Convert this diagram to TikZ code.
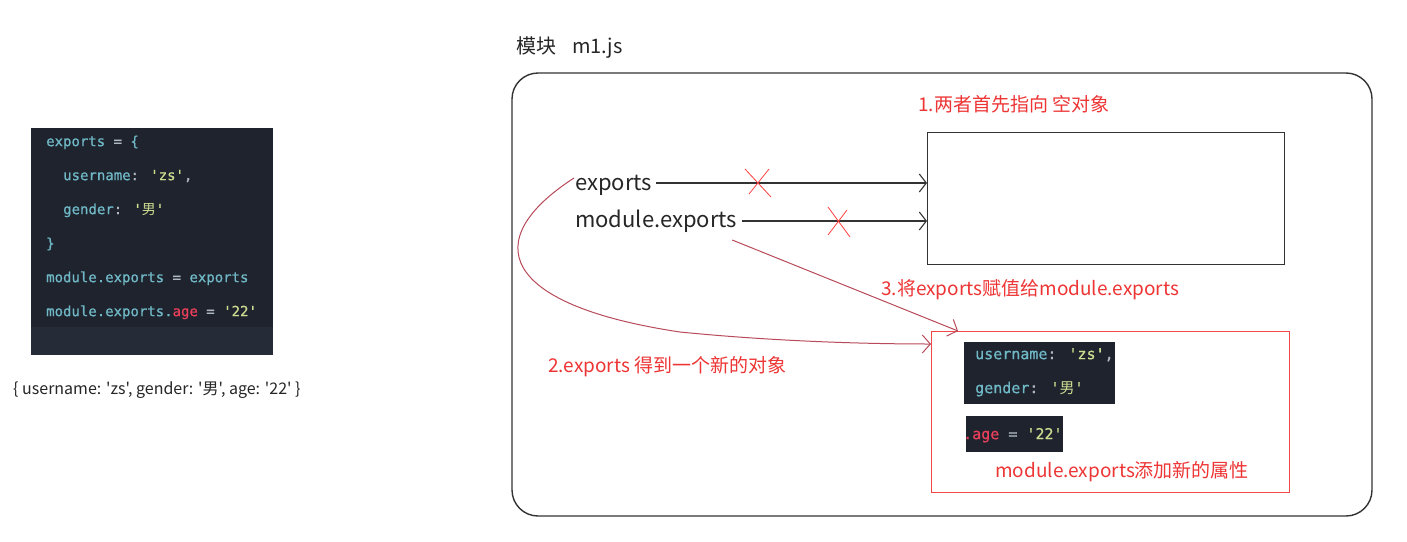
\documentclass[tikz,border=0pt]{standalone}
\usepackage{fontspec}
\newfontfamily\cjk{Noto Sans CJK SC}
\newfontfamily\code[FakeBold=0.8]{DejaVu Sans Mono}
\usetikzlibrary{arrows.meta,calc}
\definecolor{codebg}{HTML}{1E232D}
\definecolor{codeband}{HTML}{262C37}
\definecolor{codeid}{HTML}{70B8C6}
\definecolor{codestr}{HTML}{CCDC90}
\definecolor{codeop}{HTML}{B0B8C0}
\definecolor{codered}{HTML}{E8405A}
\definecolor{labelred}{HTML}{EE3535}
\definecolor{boxgray}{HTML}{333333}
\definecolor{curvecol}{HTML}{B84A5A}
\newcommand{\mystr}[1]{\textcolor{codestr}{#1}}
\newcommand{\myop}[1]{\textcolor{codeop}{#1}}
\newcommand{\myred}[1]{\textcolor{codered}{#1}}
\begin{document}
\begin{tikzpicture}[x=1pt,y=-1pt,
  codebox/.style={fill=codebg, draw=none, inner sep=0pt, anchor=north west},
  codetxt/.style={anchor=mid west, inner sep=0pt, text=codeid, font=\code\fontsize{14}{16}\selectfont},
  codetxtb/.style={codetxt, font=\code\fontsize{15}{17}\selectfont},
  lbl/.style={anchor=mid west, inner sep=0pt, text=labelred, font=\cjk\fontsize{19}{22}\selectfont},
  var/.style={anchor=mid west, inner sep=0pt, text=black!85, font=\cjk\fontsize{22}{26}\selectfont},
  ptr/.style={draw=black!80, line width=1.1pt, -{Straight Barb[length=7pt,width=18pt]}},
  redptr/.style={draw=curvecol, line width=1pt, -{Straight Barb[length=8pt,width=18pt]}},
  cross/.style={draw=red!75, line width=0.8pt}]
\useasboundingbox (0,0) rectangle (1407,541);
\fill[white] (0,0) rectangle (1407,541);

% left code box
\node[codebox, minimum width=242pt, minimum height=227pt] (code) at (31,128) {};
\fill[codeband] (31,327) rectangle (273,355);
\node[codetxt] (l1) at (46,144) {exports \myop{=} \{};
\node[codetxt] (l2) at (63,178) {username\myop{:} \mystr{'zs'}\myop{,}};
\node[codetxt] (l3) at (63,212) {gender\myop{:} \mystr{'{\cjk 男}'}};
\node[codetxt] (l4) at (46,246) {\}};
\node[codetxt] (l5) at (46,280) {module.exports \myop{=} exports};
\node[codetxt] (l6) at (46,314) {module.exports.\myred{age} \myop{=} \mystr{'22'}};
\node[anchor=mid west, inner sep=0pt, text=black!85, font=\cjk\fontsize{16}{18}\selectfont] (cap) at (13,392) {\{ username: 'zs', gender: '男', age: '22' \}};

% module frame
\node[anchor=mid west, inner sep=0pt, text=black!85, font=\cjk\fontsize{20}{24}\selectfont] (title) at (516,51) {模块\hspace{16pt}m1.js};
\draw[boxgray, line width=1.4pt, rounded corners=26pt] (512,73) rectangle (1372,516);

\node[lbl] (t1) at (918,109) {1.两者首先指向 空对象};
\node[draw=boxgray, line width=1.4pt, anchor=north west, minimum width=357pt, minimum height=132pt, inner sep=0pt] (obj1) at (927,132) {};

\node[var] (ex) at (575,188) {exports};
\node[var] (me) at (575,225) {module.exports};

\coordinate (a1) at ([shift={(4pt,5pt)}]ex.mid east);
\coordinate (a2) at ([shift={(5pt,4pt)}]me.mid east);
\draw[ptr] (a1) -- (a1 -| obj1.west);
\draw[ptr] (a2) -- (a2 -| obj1.west);

\coordinate (x1) at (758,183);
\coordinate (x2) at (838,222);
\draw[cross] (x1) +(-13,-14) -- +(13,14) (x1) +(11,-14) -- +(-9,11);
\draw[cross] (x2) +(-10,-15) -- +(12,15) (x2) +(9,-12) -- +(-10,13);

% second object
\node[draw=labelred!90, line width=1.2pt, anchor=north west, minimum width=358pt, minimum height=161pt, inner sep=0pt] (obj2) at (931,331) {};
\node[codebox, minimum width=151pt, minimum height=62pt] (ib1) at (964,342) {};
\node[codebox, minimum width=97pt, minimum height=36pt] (ib2) at (966,416) {};
\node[codetxtb] (i1) at (975,357) {username\myop{:} \mystr{'zs'}\myop{,}};
\node[codetxtb] (i2) at (975,391) {gender\myop{:} \mystr{'{\cjk 男}'}};
\node[codetxtb] (i3) at (963,437) {\myred{.age} \myop{=} \mystr{'22'}};
\node[lbl] (t4) at (995,475) {module.exports添加新的属性};

% step 3
\draw[redptr] ([shift={(-5pt,-15pt)}]me.mid east) -- ([xshift=27pt]obj2.north west);
\node[lbl] (t3) at (881,293) {3.将exports赋值给module.exports};

% step 2
\coordinate (c2) at (obj2.west |- 0,344);
\draw[redptr] ([shift={(-1pt,10pt)}]ex.mid west) .. controls (478,240) and (500,305) .. (680,332) .. controls (760,340) and (850,344) .. (c2);
\node[lbl] (t2) at (548,370) {2.exports 得到一个新的对象};
\end{tikzpicture}
\end{document}
